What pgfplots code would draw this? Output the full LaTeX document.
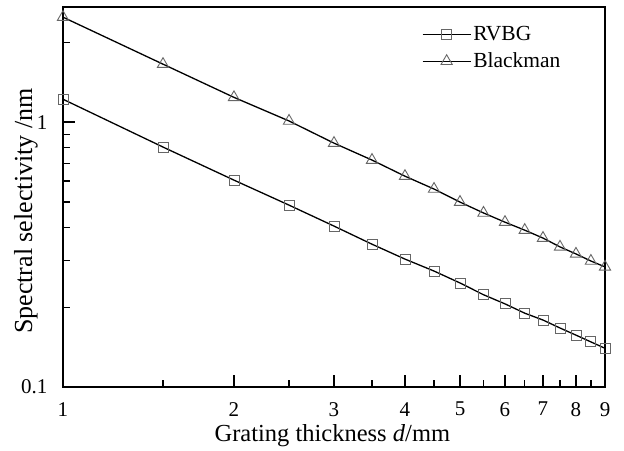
\documentclass[border=0pt]{standalone}
\usepackage{fontspec}
\setmainfont{Liberation Serif}
\usepackage{pgfplots}
\pgfplotsset{compat=1.18}
\begin{document}
\begin{tikzpicture}
\begin{axis}[
  name=ax,
  scale only axis,
  width=542pt, height=380pt,
  xmode=log, ymode=log,
  xmin=1, xmax=9, ymin=0.1, ymax=2.72,
  xtick={1,2,3,4,5,6,7,8,9},
  xticklabels={1,2,3,4,5,6,7,8,9},
  minor xtick={1.5,2.5,3.5,4.5,5.5,6.5,7.5,8.5},
  ytick={0.1,1},
  yticklabels={0.1,1},
  minor ytick={0.2,0.3,0.4,0.5,0.6,0.7,0.8,0.9,2},
  xtick pos=left, ytick pos=left,
  tick align=inside,
  major tick length=12pt,
  minor tick length=7pt,
  tick style={black, line width=1.3pt},
  axis line style={line width=1.5pt},
  /pgf/number format/assume math mode=true,
  ticklabel style={font=\fontsize{21}{22}\selectfont},
  xticklabel style={inner sep=1pt, yshift=-14pt},
  yticklabel style={xshift=-12pt},
  every axis x label/.style={at={(axis description cs:0.497,-0.143)}, anchor=base,
    inner sep=1pt, font=\fontsize{24.5}{26}\selectfont},
  every axis y label/.style={at={(axis description cs:-0.057,0.463)}, anchor=base, rotate=90,
    inner sep=1pt, font=\fontsize{26}{28}\selectfont},
  xlabel={Grating thickness \textit{d}/mm},
  ylabel={Spectral selectivity /nm},
  legend style={at={(rel axis cs:0.662,0.955)}, anchor=north west, draw=none, fill=none,
    font=\fontsize{21.5}{23}\selectfont, inner sep=0pt, row sep=7pt,
    /tikz/every even column/.append style={column sep=0pt}},
  legend cell align=left,
  legend image code/.code={%
    \draw[#1, mark repeat=2, mark phase=2] plot coordinates {(0pt,0pt) (24pt,0pt) (48pt,0pt)};},
  clip=false,
]
\addplot[black, line width=1.3pt, mark=square, mark size=5pt,
  mark options={draw=black!60, line width=0.9pt, fill=none}]
coordinates {
(1,1.22) (1.5,0.805) (2,0.604) (2.5,0.486) (3,0.405) (3.5,0.346) (4,0.304)
(4.5,0.274) (5,0.247) (5.5,0.223) (6,0.206) (6.5,0.190) (7,0.179) (7.5,0.167)
(8,0.157) (8.5,0.148) (9,0.140)
};
\addlegendentry{RVBG}
\addplot[black, line width=1.3pt, mark=triangle, mark size=6.5pt,
  mark options={draw=black!60, line width=0.9pt, fill=none}]
coordinates {
(1,2.49) (1.5,1.655) (2,1.24) (2.5,1.01) (3,0.833) (3.5,0.719) (4,0.625)
(4.5,0.559) (5,0.499) (5.5,0.454) (6,0.419) (6.5,0.391) (7,0.365) (7.5,0.338)
(8,0.318) (8.5,0.299) (9,0.284)
};
\addlegendentry{Blackman}
\end{axis}
\path (ax.south west) ++(-63pt,-64pt);
\path (ax.north east) ++(19pt,7pt);
\end{tikzpicture}
\end{document}
